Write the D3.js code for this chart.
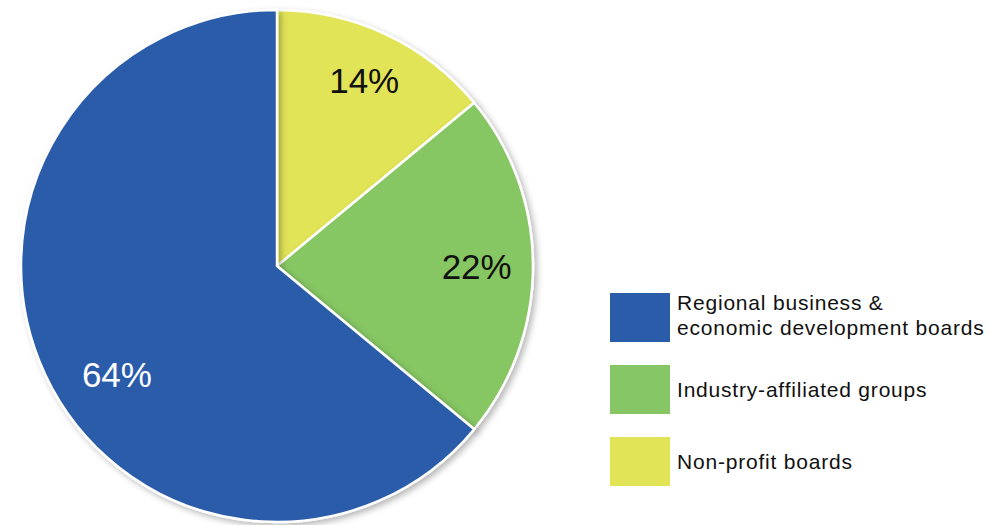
<!DOCTYPE html>
<html>
<head>
<meta charset="utf-8">
<script src="https://cdn.jsdelivr.net/npm/d3@7"></script>
<style>
  html, body { margin: 0; padding: 0; background: #ffffff; }
  svg { display: block; }
  text { font-family: "Helvetica Neue", Helvetica, Arial, "Liberation Sans", sans-serif; }
</style>
</head>
<body>
<svg id="chart" width="990" height="525"></svg>
<script>
// Board types and their share of the total (percent)
const categories = ["Non-profit boards", "Industry-affiliated groups", "Regional business & economic development boards"];
const shares = [14, 22, 64];
const colors = ["#e1e457", "#86c664", "#2a5caa"];
const labelColors = ["#111111", "#111111", "#ffffff"];

// Legend order (top to bottom) and wrapped label lines
const legendOrder = [2, 1, 0];
const legendLines = [
  ["Non-profit boards"],
  ["Industry-affiliated groups"],
  ["Regional business &", "economic development boards"]
];

const svg = d3.select("#chart");
const cx = 277, cy = 266, R = 256;

// soft drop shadow under each slice
const defs = svg.append("defs");
const f = defs.append("filter").attr("id", "shadow")
  .attr("x", "-10%").attr("y", "-10%").attr("width", "130%").attr("height", "130%");
f.append("feDropShadow")
  .attr("dx", 3).attr("dy", 3).attr("stdDeviation", 3)
  .attr("flood-color", "#000").attr("flood-opacity", 0.28);

const pie = d3.pie().sort(null).value(d => d)(shares);
const arc = d3.arc().innerRadius(0).outerRadius(R);

const g = svg.append("g").attr("transform", `translate(${cx},${cy})`);

g.selectAll("path.slice")
  .data(pie)
  .join("path")
  .attr("class", "slice")
  .attr("d", arc)
  .attr("fill", (d, i) => colors[i])
  .attr("stroke", "#ffffff")
  .attr("stroke-width", 2.5)
  .attr("stroke-linejoin", "round")
  .attr("filter", "url(#shadow)");

// percentage labels: radius fraction and angular nudge per slice
const labelRadius = [0.80, 0.78, 0.756];
const labelNudge = [0, 0, -9 * Math.PI / 180];
g.selectAll("text.pct")
  .data(pie)
  .join("text")
  .attr("class", "pct")
  .attr("transform", (d, i) => {
    const a = (d.startAngle + d.endAngle) / 2 + labelNudge[i];
    const r = R * labelRadius[i];
    return `translate(${r * Math.sin(a)},${-r * Math.cos(a)})`;
  })
  .attr("text-anchor", "middle")
  .attr("dy", "0.36em")
  .attr("font-size", 35)
  .attr("fill", (d, i) => labelColors[i])
  .text(d => d.data + "%");

// legend
const legend = svg.append("g").attr("transform", "translate(610,293)");
const rows = legend.selectAll("g.row")
  .data(legendOrder)
  .join("g")
  .attr("class", "row")
  .attr("transform", (d, k) => `translate(0,${k * 72})`);

rows.append("rect")
  .attr("width", 60).attr("height", 49)
  .attr("fill", d => colors[d]);

rows.append("text")
  .attr("x", 67)
  .attr("font-size", 21)
  .attr("letter-spacing", 0.8)
  .attr("fill", "#111111")
  .each(function(d) {
    const lines = legendLines[d];
    const t = d3.select(this);
    const startY = lines.length === 1 ? 32 : 17;
    lines.forEach((ln, j) => {
      t.append("tspan").attr("x", 67).attr("y", startY + j * 25).text(ln);
    });
  });
</script>
</body>
</html>
